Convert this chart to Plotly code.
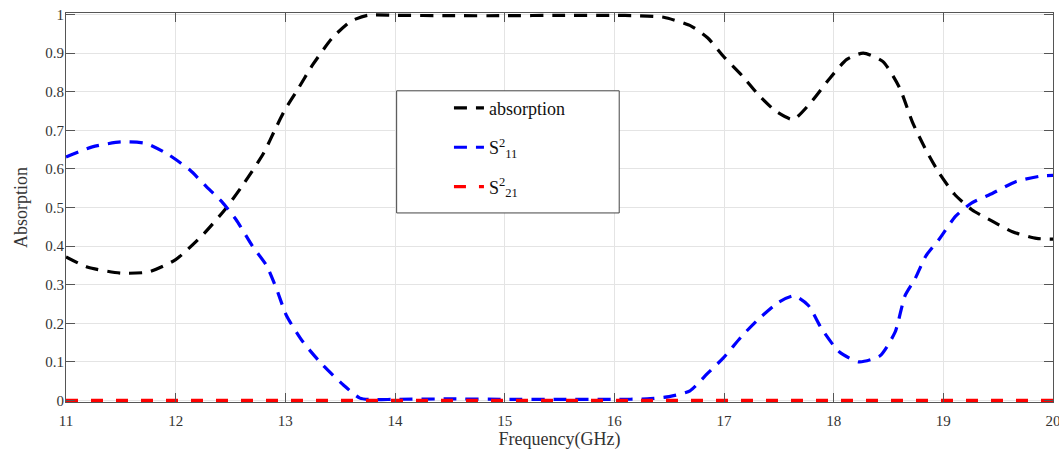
import plotly.graph_objects as go

# ---- data ----
abs_freq = [11.0, 11.2, 11.5, 11.75, 12.0, 12.25, 12.45, 12.6, 12.8, 12.92, 13.0, 13.1,
            13.25, 13.43, 13.6, 13.75, 14.0, 14.5, 15.0, 15.5, 16.0, 16.2, 16.45, 16.7,
            16.85, 17.0, 17.17, 17.32, 17.47, 17.63, 17.8, 17.96, 18.12, 18.27, 18.45,
            18.6, 18.72, 18.84, 18.96, 19.1, 19.26, 19.45, 19.63, 19.85, 20.0]
absorption = [0.372, 0.345, 0.330, 0.333, 0.365, 0.430, 0.495, 0.553, 0.640, 0.710, 0.755,
              0.800, 0.870, 0.940, 0.983, 0.998, 0.998, 0.997, 0.997, 0.998, 0.998, 0.997,
              0.993, 0.970, 0.940, 0.890, 0.840, 0.790, 0.750, 0.728, 0.775, 0.833, 0.884,
              0.900, 0.878, 0.811, 0.720, 0.650, 0.590, 0.535, 0.494, 0.464, 0.437, 0.420,
              0.418]

s11_freq = [11.0, 11.24, 11.5, 11.73, 11.94, 12.13, 12.28, 12.43, 12.55, 12.7, 12.83, 12.92,
            13.01, 13.16, 13.34, 13.53, 13.68, 13.8, 14.0, 14.5, 15.0, 15.5, 16.0, 16.3,
            16.5, 16.69, 16.85, 16.99, 17.17, 17.32, 17.5, 17.64, 17.77, 17.89, 18.05,
            18.23, 18.42, 18.56, 18.65, 18.74, 18.84, 18.96, 19.11, 19.26, 19.45, 19.66,
            19.9, 20.0]
s11_sq = [0.631, 0.657, 0.670, 0.666, 0.636, 0.597, 0.554, 0.512, 0.469, 0.400, 0.349,
          0.289, 0.220, 0.152, 0.092, 0.040, 0.006, 0.002, 0.003, 0.004, 0.003, 0.003,
          0.003, 0.004, 0.010, 0.025, 0.070, 0.109, 0.169, 0.212, 0.255, 0.271, 0.246,
          0.186, 0.126, 0.100, 0.115, 0.177, 0.271, 0.314, 0.374, 0.417, 0.477, 0.512,
          0.537, 0.567, 0.582, 0.583]

s21_freq = [11.0, 12.0, 13.0, 14.0, 15.0, 16.0, 17.0, 18.0, 19.0, 20.0]
s21_sq = [0.0, 0.0, 0.0, 0.0, 0.0, 0.0, 0.0, 0.0, 0.0, 0.0]

x_ticks = [11, 12, 13, 14, 15, 16, 17, 18, 19, 20]
y_ticks = [0, 0.1, 0.2, 0.3, 0.4, 0.5, 0.6, 0.7, 0.8, 0.9, 1]
y_tick_labels = ["0", "0.1", "0.2", "0.3", "0.4", "0.5", "0.6", "0.7", "0.8", "0.9", "1"]

FONT = "Liberation Serif"

fig = go.Figure()
fig.add_trace(go.Scatter(x=abs_freq, y=absorption, mode="lines", name="absorption",
                         legendgroup="a",
                         line=dict(color="black", width=3.2, dash="13px,9px",
                                   shape="spline", smoothing=0.6)))
fig.add_trace(go.Scatter(x=s11_freq, y=s11_sq, mode="lines",
                         name="S<sup>2</sup><sub>11</sub>", legendgroup="b",
                         line=dict(color="#0000ff", width=3.2, dash="13px,9px",
                                   shape="spline", smoothing=0.6)))
fig.add_trace(go.Scatter(x=s21_freq, y=s21_sq, mode="lines",
                         name="S<sup>2</sup><sub>21</sub>", legendgroup="c",
                         line=dict(color="#ff0000", width=3.2, dash="12px,13px")))

axis_common = dict(
    showline=True, linecolor="#555555", linewidth=1, mirror="allticks",
    ticks="inside", ticklen=9, tickcolor="#555555", tickwidth=1,
    showgrid=True, gridcolor="#e4e4e4", gridwidth=1, zeroline=False,
    tickfont=dict(family=FONT, size=15, color="#333333"),
    automargin=False,
)

fig.update_layout(
    width=1059, height=452,
    margin=dict(l=66, r=6, t=13, b=50),
    paper_bgcolor="white", plot_bgcolor="white",
    font=dict(family=FONT, color="#333333"),
    xaxis=dict(range=[11, 20], tickvals=x_ticks, ticklabeloverflow="allow",
               ticklabelstandoff=5,
               title=dict(text="Frequency(GHz)", font=dict(family=FONT, size=18, color="#333333"),
                          standoff=4),
               **axis_common),
    yaxis=dict(range=[-0.004, 1.004], tickvals=y_ticks, ticktext=y_tick_labels,
               ticklabelstandoff=-2,
               title=dict(text="Absorption", font=dict(family=FONT, size=18, color="#333333"),
                          standoff=12),
               **axis_common),
    legend=dict(x=0.388, y=0.803, xanchor="left", yanchor="top",
                bgcolor="rgba(0,0,0,0)", borderwidth=0,
                font=dict(family=FONT, size=18, color="#111111"),
                itemwidth=30, tracegroupgap=13),
    shapes=[dict(type="rect", xref="paper", yref="paper",
                 x0=0.335, x1=0.5605, y0=0.486, y1=0.80,
                 line=dict(color="#444444", width=1), fillcolor="white", layer="above")],
    showlegend=True,
)

fig.write_html("out.html")
